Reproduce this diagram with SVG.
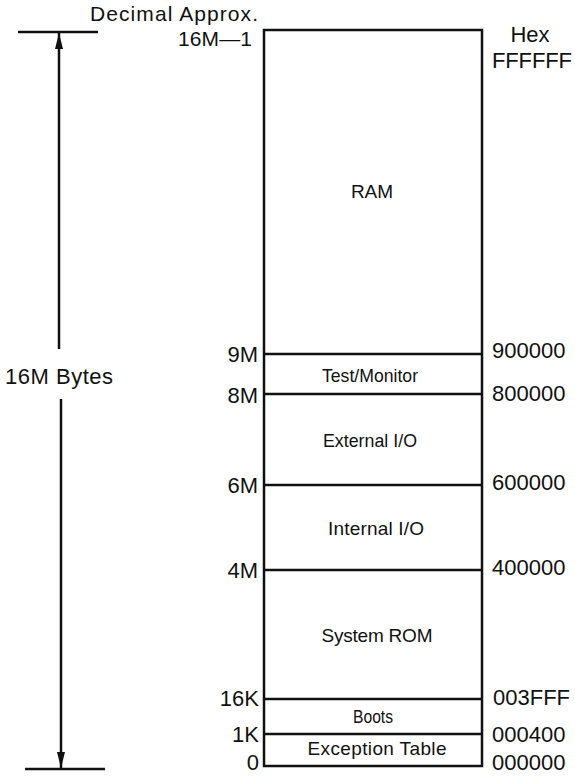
<svg xmlns="http://www.w3.org/2000/svg" width="575" height="777" viewBox="0 0 575 777">
<style>
text{font-family:"Liberation Sans",Arial,sans-serif;fill:#111}
.lab{font-size:22px}
.l{text-anchor:end}
.m{text-anchor:middle}
.c{font-size:19px;text-anchor:middle}
.ln{stroke:#111;stroke-width:2.5;fill:none}
</style>
<defs>
<marker id="ah" viewBox="0 0 16 10" refX="16" refY="5" markerWidth="16" markerHeight="10" markerUnits="userSpaceOnUse" orient="auto"><path d="M0,1 L16,5 L0,9 Z" fill="#111"/></marker>
</defs>
<rect x="0" y="0" width="575" height="777" fill="#fff"/>
<g id="connectors">
<line class="ln" x1="18" y1="32" x2="98" y2="32"/>
<line class="ln" x1="25" y1="769" x2="105" y2="769"/>
<line class="ln" x1="59" y1="349" x2="59" y2="33" marker-end="url(#ah)" stroke-width="2"/>
<line class="ln" x1="61" y1="399" x2="61" y2="768" marker-end="url(#ah)" stroke-width="2"/>
</g>
<g id="memory-box">
<rect class="ln" x="264" y="30" width="218" height="736" stroke-width="3"/>
</g>
<g id="dividers">
<line class="ln" x1="264" y1="354" x2="482" y2="354"/>
<line class="ln" x1="264" y1="394" x2="482" y2="394"/>
<line class="ln" x1="264" y1="485" x2="482" y2="485"/>
<line class="ln" x1="264" y1="570" x2="482" y2="570"/>
<line class="ln" x1="264" y1="699" x2="482" y2="699"/>
<line class="ln" x1="264" y1="734" x2="482" y2="734"/>
</g>
<g id="headers">
<text x="90" y="21" font-size="21" textLength="168" lengthAdjust="spacing">Decimal Approx.</text>
<text x="178" y="46" font-size="21" textLength="74" lengthAdjust="spacing">16M—1</text>
<text class="lab m" x="530" y="42" font-size="20">Hex</text>
<text class="lab" x="492" y="68" font-size="21" textLength="80" lengthAdjust="spacing">FFFFFF</text>
<text x="5" y="384" font-size="22" textLength="108" lengthAdjust="spacing">16M Bytes</text>
</g>
<g id="ram"><text class="c" x="372" y="198">RAM</text></g>
<g id="test-monitor"><text class="c" x="370" y="382" textLength="96" lengthAdjust="spacingAndGlyphs">Test/Monitor</text></g>
<g id="external-io"><text class="c" x="370" y="447" textLength="94" lengthAdjust="spacingAndGlyphs">External I/O</text></g>
<g id="internal-io"><text class="c" x="376" y="535" textLength="96" lengthAdjust="spacing">Internal I/O</text></g>
<g id="system-rom"><text class="c" x="377" y="642" textLength="111" lengthAdjust="spacing">System ROM</text></g>
<g id="boots"><text class="c" x="373" y="723" font-size="17" textLength="40" lengthAdjust="spacingAndGlyphs">Boots</text></g>
<g id="exception-table"><text class="c" x="377" y="755" textLength="139" lengthAdjust="spacing">Exception Table</text></g>
<g id="decimal-labels">
<text class="lab l" x="258" y="362">9M</text>
<text class="lab l" x="258" y="403">8M</text>
<text class="lab l" x="258" y="493">6M</text>
<text class="lab l" x="258" y="578">4M</text>
<text class="lab l" x="259" y="706">16K</text>
<text class="lab l" x="259" y="742">1K</text>
<text class="lab l" x="259" y="770">0</text>
</g>
<g id="hex-labels">
<text class="lab" x="492" y="358">900000</text>
<text class="lab" x="492" y="401">800000</text>
<text class="lab" x="492" y="490">600000</text>
<text class="lab" x="492" y="575">400000</text>
<text class="lab" x="493" y="705">003FFF</text>
<text class="lab" x="492" y="742">000400</text>
<text class="lab" x="492" y="770">000000</text>
</g>
</svg>
